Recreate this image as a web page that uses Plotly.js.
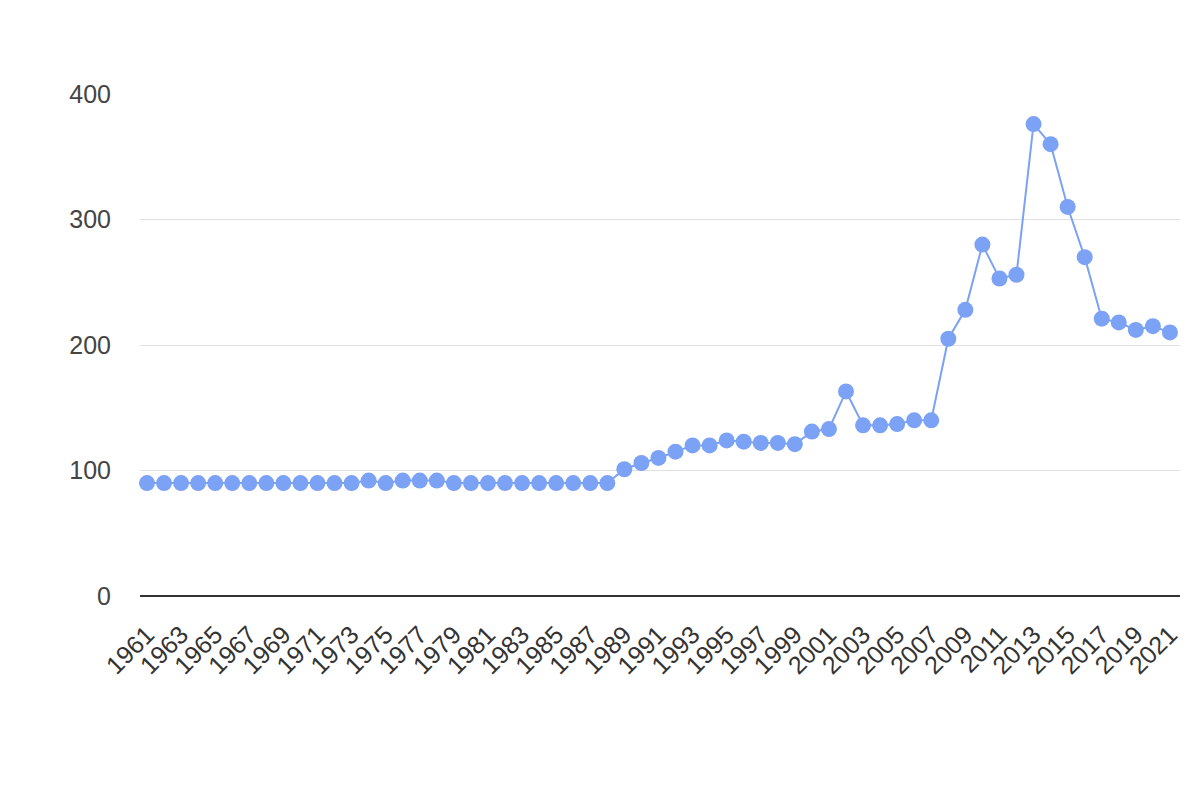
<!DOCTYPE html>
<html>
<head>
<meta charset="utf-8">
<script src="https://cdn.plot.ly/plotly-3.0.1.min.js"></script>
<style>html,body{margin:0;padding:0;background:#fff;}#chart{width:1200px;height:800px;}</style>
</head>
<body>
<div id="chart"></div>
<script>
const years = [1961,1962,1963,1964,1965,1966,1967,1968,1969,1970,1971,1972,1973,1974,1975,1976,1977,1978,1979,1980,1981,1982,1983,1984,1985,1986,1987,1988,1989,1990,1991,1992,1993,1994,1995,1996,1997,1998,1999,2000,2001,2002,2003,2004,2005,2006,2007,2008,2009,2010,2011,2012,2013,2014,2015,2016,2017,2018,2019,2020,2021];
const values = [90,90,90,90,90,90,90,90,90,90,90,90,90,92,90,92,92,92,90,90,90,90,90,90,90,90,90,90,101,106,110,115,120,120,124,123,122,122,121,131,133,163,136,136,137,140,140,205,228,280,253,256,376,360,310,270,221,218,212,215,210];
const tickYears = [1961,1963,1965,1967,1969,1971,1973,1975,1977,1979,1981,1983,1985,1987,1989,1991,1993,1995,1997,1999,2001,2003,2005,2007,2009,2011,2013,2015,2017,2019,2021];
const yTicks = [0,100,200,300,400];

const trace = {
  x: years, y: values, type: 'scatter', mode: 'lines+markers',
  line: {color: '#7BA2F4', width: 2},
  marker: {color: '#7BA2F4', size: 16},
  cliponaxis: false, hoverinfo: 'x+y'
};
const layout = {
  width: 1200, height: 800,
  margin: {l: 140, r: 20, t: 94, b: 204},
  paper_bgcolor: '#fff', plot_bgcolor: '#fff',
  showlegend: false,
  font: {family: 'Liberation Sans, Arial, sans-serif', color: '#444'},
  xaxis: {
    range: [1960.59, 2021.59], tickmode: 'array', tickvals: tickYears,
    ticktext: tickYears.map(String), tickangle: -45,
    tickfont: {size: 25, color: '#333'}, showgrid: false, zeroline: false,
    showline: false, ticks: '', ticklabelstandoff: 18
  },
  yaxis: {
    range: [0, 400], tickmode: 'array', tickvals: yTicks, ticktext: yTicks.map(String),
    tickfont: {size: 25, color: '#444'}, showgrid: true, gridcolor: '#e0e0e0', gridwidth: 1,
    zeroline: true, zerolinecolor: '#333', zerolinewidth: 2, showline: false, ticks: '',
    ticklabelstandoff: 28
  }
};
Plotly.newPlot('chart', [trace], layout, {displayModeBar: false, staticPlot: true});
</script>
</body>
</html>
